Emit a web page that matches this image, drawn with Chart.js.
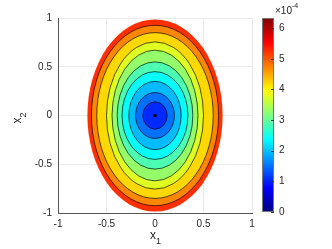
<!DOCTYPE html>
<html>
<head>
<meta charset="utf-8">
<script src="https://cdn.jsdelivr.net/npm/chart.js@4.4.1/dist/chart.umd.min.js"></script>
<style>
    html, body { margin: 0; padding: 0; background: #fff; }
    #wrap { position: relative; width: 332px; height: 249px; }
    #wrap canvas { position: absolute; left: 0; top: 0; }
</style>
</head>
<body>
<div id="wrap">
    <canvas id="main" width="332" height="249"></canvas>
    <canvas id="cbar" width="332" height="249"></canvas>
</div>
<script>
// contour levels: value at the inner edge of each filled band
const levels = [1.05e-4, 1.5e-4, 1.95e-4, 2.4e-4, 2.85e-4, 3.3e-4, 3.75e-4, 4.2e-4, 4.7e-4, 5.25e-4];
// outer edge of each band, along x1 and along x2
const bandRx = [0.125, 0.20, 0.27, 0.34, 0.39, 0.443, 0.50, 0.60, 0.655, 0.697];
const bandRy = [0.14, 0.235, 0.35, 0.45, 0.55, 0.67, 0.755, 0.85, 0.925, 0.985];
const minPoint = [{ x: 0, y: 0 }];
const axisTicks = [-1, -0.5, 0, 0.5, 1];
const cbarTicks = [0, 1e-4, 2e-4, 3e-4, 4e-4, 5e-4, 6e-4];
const cbarMax = 6.33e-4;

const FONT = 'Helvetica, Arial, "Liberation Sans", sans-serif';
const TXT = '#262626';

// MATLAB jet colormap
function jet(t) {
    t = Math.max(0, Math.min(1, t));
    const c = v => Math.round(Math.min(Math.max(v, 0), 1) * 255);
    const r = Math.min(4 * t - 1.5, -4 * t + 4.5);
    const g = Math.min(4 * t - 0.5, -4 * t + 3.5);
    const b = Math.min(4 * t + 0.5, -4 * t + 2.5);
    return `rgb(${c(r)},${c(g)},${c(b)})`;
}

const setTicks = arr => scale => { scale.ticks = arr.map(v => ({ value: v })); };

// --- filled contour bands ---
const contourPlugin = {
    id: 'contour',
    beforeDatasetsDraw(chart) {
        const { ctx, chartArea, scales: { x, y } } = chart;
        const cx = x.getPixelForValue(0), cy = y.getPixelForValue(0);
        ctx.save();
        ctx.beginPath();
        ctx.rect(chartArea.left, chartArea.top, chartArea.width, chartArea.height);
        ctx.clip();
        for (let k = levels.length - 1; k >= 0; k--) {
            const rx = x.getPixelForValue(bandRx[k]) - cx;
            const ry = cy - y.getPixelForValue(bandRy[k]);
            ctx.beginPath();
            ctx.ellipse(cx, cy, rx, ry, 0, 0, 2 * Math.PI);
            ctx.fillStyle = jet(levels[k] / cbarMax);
            ctx.fill();
        }
        ctx.strokeStyle = 'rgba(0,0,0,0.75)';
        ctx.lineWidth = 0.9;
        for (let k = 0; k < levels.length - 1; k++) {
            const rx = x.getPixelForValue(bandRx[k]) - cx;
            const ry = cy - y.getPixelForValue(bandRy[k]);
            ctx.beginPath();
            ctx.ellipse(cx, cy, rx, ry, 0, 0, 2 * Math.PI);
            ctx.stroke();
        }
        ctx.restore();
    },
    afterDraw(chart) {
        const { ctx, chartArea } = chart;
        ctx.save();
        ctx.fillStyle = TXT;
        ctx.textBaseline = 'alphabetic';
        // x1 label
        const mx = (chartArea.left + chartArea.right) / 2;
        ctx.font = '12px ' + FONT;
        ctx.fillText('x', mx - 5, 239);
        ctx.font = '9px ' + FONT;
        ctx.fillText('1', mx + 1, 244);
        // x2 label
        ctx.translate(21, (chartArea.top + chartArea.bottom) / 2 + 3);
        ctx.rotate(-Math.PI / 2);
        ctx.font = '12px ' + FONT;
        ctx.fillText('x', -5, 0);
        ctx.font = '9px ' + FONT;
        ctx.fillText('2', 1, 5);
        ctx.restore();
    }
};

new Chart(document.getElementById('main'), {
    type: 'scatter',
    data: {
        datasets: [{
            data: minPoint,
            pointRadius: 1.8,
            backgroundColor: '#000',
            borderWidth: 0
        }]
    },
    options: {
        responsive: false,
        animation: false,
        layout: { padding: { left: 0, top: 18, right: 80, bottom: 0 } },
        plugins: { legend: { display: false }, tooltip: { enabled: false } },
        scales: {
            x: {
                min: -1, max: 1,
                afterBuildTicks: setTicks(axisTicks),
                afterFit: s => { s.height = 36; },
                grid: { color: '#ebebeb', drawTicks: false },
                border: { color: '#555' },
                ticks: {
                    color: TXT, font: { size: 10, family: FONT }, padding: 5, maxRotation: 0,
                    callback: v => String(v)
                }
            },
            y: {
                min: -1, max: 1,
                afterBuildTicks: setTicks(axisTicks),
                afterFit: s => { s.width = 58; },
                grid: { color: '#ebebeb', drawTicks: false },
                border: { color: '#555' },
                ticks: {
                    color: TXT, font: { size: 10, family: FONT }, padding: 6,
                    callback: v => String(v)
                }
            }
        }
    },
    plugins: [contourPlugin]
});

// --- colorbar ---
const cbarPlugin = {
    id: 'cbar',
    beforeDatasetsDraw(chart) {
        const { ctx, chartArea: a, scales: { y } } = chart;
        const g = ctx.createLinearGradient(0, a.bottom, 0, a.top);
        for (let i = 0; i <= 64; i++) g.addColorStop(i / 64, jet(i / 64));
        ctx.save();
        ctx.fillStyle = g;
        ctx.fillRect(a.left, a.top, a.right - a.left, a.bottom - a.top);
        ctx.strokeStyle = '#777';
        ctx.lineWidth = 1;
        ctx.strokeRect(a.left + 0.5, a.top + 0.5, a.right - a.left - 1, a.bottom - a.top - 1);
        ctx.strokeStyle = '#333';
        cbarTicks.forEach(v => {
            const py = Math.round(y.getPixelForValue(v)) + 0.5;
            ctx.beginPath();
            ctx.moveTo(a.right - 3, py);
            ctx.lineTo(a.right, py);
            ctx.stroke();
        });
        // exponent label
        ctx.fillStyle = TXT;
        ctx.font = '10px ' + FONT;
        ctx.textBaseline = 'alphabetic';
        ctx.fillText('\u00d710', a.right + 1, 14);
        ctx.font = '7px ' + FONT;
        ctx.fillText('-4', a.right + 18, 8);
        ctx.restore();
    }
};

new Chart(document.getElementById('cbar'), {
    type: 'scatter',
    data: { datasets: [] },
    options: {
        responsive: false,
        animation: false,
        layout: { padding: { left: 262, top: 18, right: 0, bottom: 37 } },
        plugins: { legend: { display: false }, tooltip: { enabled: false } },
        scales: {
            x: { display: false, min: 0, max: 1 },
            y: {
                position: 'right',
                min: 0, max: cbarMax,
                afterBuildTicks: setTicks(cbarTicks),
                afterFit: s => { s.width = 58; },
                grid: { display: false, drawTicks: false },
                border: { display: false },
                ticks: {
                    color: TXT, font: { size: 10, family: FONT }, padding: 5,
                    callback: v => String(Math.round(v / 1e-4))
                }
            }
        }
    },
    plugins: [cbarPlugin]
});
</script>
</body>
</html>
